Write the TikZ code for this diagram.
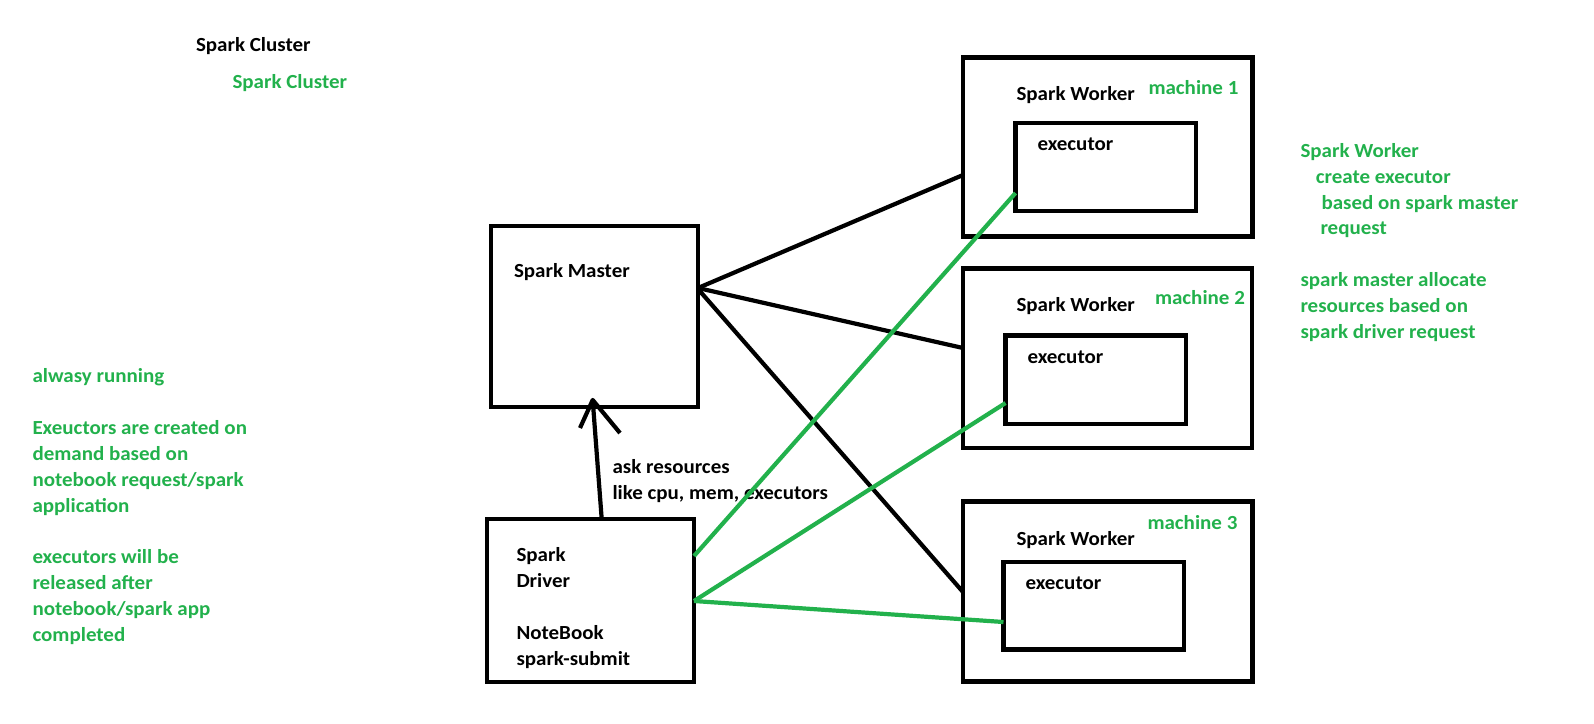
\documentclass[tikz,border=0pt]{standalone}
\usepackage{fontspec}
\setmainfont{Carlito}[FakeStretch=1.05]
\definecolor{sgreen}{RGB}{34,177,76}
\begin{document}
\begin{tikzpicture}[x=1pt,y=-1pt,
  every node/.style={font=\fontsize{20}{25.9}\selectfont\bfseries},
  box/.style={draw, line width=4.6pt, rectangle, anchor=north west, inner sep=0pt, outer sep=0pt},
  conn/.style={draw, line width=4.2pt},
  gconn/.style={draw=sgreen, line width=4.2pt},
  lbl/.style={anchor=base west, inner sep=0pt, outer sep=0pt, text=black, align=left},
  note/.style={lbl, text=sgreen}]
\useasboundingbox (0,0) rectangle (1594,723);
% boxes
\node[box, minimum width=207pt, minimum height=181pt] (master) at (491,226) {};
\node[box, minimum width=207pt, minimum height=163pt] (driver) at (487,519) {};
\node[box, minimum width=289.5pt, minimum height=179pt] (w1) at (963,57.5) {};
\node[box, minimum width=180.5pt, minimum height=88pt] (e1) at (1015.5,123) {};
\node[box, minimum width=289pt, minimum height=179.5pt] (w2) at (963,268.5) {};
\node[box, minimum width=180.5pt, minimum height=88.5pt] (e2) at (1005.5,335.5) {};
\node[box, minimum width=289.5pt, minimum height=180pt] (w3) at (963,501.5) {};
\node[box, minimum width=180.5pt, minimum height=87.5pt] (e3) at (1003.5,562) {};
% labels (multi-line nodes are placed by the baseline of their last line)
\node[lbl] (tcl) at (196,51) {Spark Cluster};
\node[note] (gcl) at (232.5,88) {Spark Cluster};
\node[lbl] (tmaster) at (514,277) {Spark Master};
\node[lbl] (tdriver) at (516.5,665) {Spark\\Driver\\[25.9pt]NoteBook\\spark-submit};
\node[lbl] (task) at (612.5,499.5) {ask resources\\like cpu, mem, executors};
\node[lbl] (tw1) at (1016.5,100.5) {Spark Worker};
\node[lbl] (tw2) at (1016.5,311.5) {Spark Worker};
\node[lbl] (tw3) at (1016.5,545) {Spark Worker};
\node[note] (m1) at (1148.5,94) {machine 1};
\node[note] (m2) at (1155,304) {machine 2};
\node[note] (m3) at (1147.5,529.5) {machine 3};
\node[lbl] (te1) at (1037.5,150) {executor};
\node[lbl] (te2) at (1027.5,363.5) {executor};
\node[lbl] (te3) at (1025.5,589.5) {executor};
\node[note] (nright) at (1300.5,338.5) {Spark Worker\\\hspace*{15.3pt}create executor\\\hspace*{21pt}based on spark master\\\hspace*{20pt}request\\[25.9pt]spark master allocate\\resources based on\\spark driver request};
\node[note] (nleft) at (32.5,641.5) {alwasy running\\[25.9pt]Exeuctors are created on\\demand based on\\notebook request/spark\\application\\[25.9pt]executors will be\\released after\\notebook/spark app\\completed};
% black connectors
\draw[conn] ([yshift=-62pt]master.north east) -- ([yshift=-117.5pt]w1.north west);
\draw[conn] ([yshift=-62pt]master.north east) -- ([yshift=-79.5pt]w2.north west);
\draw[conn] ([yshift=-63pt]master.north east) -- ([yshift=-90.5pt]w3.north west);
% green connectors
\draw[gconn] ([yshift=-37pt]driver.north east) -- ([yshift=-70pt]e1.north west);
\draw[gconn] ([yshift=-82pt]driver.north east) -- ([yshift=-67.5pt]e2.north west);
\draw[gconn] ([yshift=-82pt]driver.north east) -- ([yshift=-60pt]e3.north west);
% request arrow
\coordinate (tip) at ([xshift=101.7pt,yshift=7pt]master.south west);
\draw[conn] ([xshift=114.7pt]driver.north west) -- (tip);
\draw[conn, line join=round] ([xshift=-12.7pt,yshift=-28pt]tip) -- (tip) -- ([xshift=27.3pt,yshift=-33pt]tip);
\end{tikzpicture}
\end{document}
